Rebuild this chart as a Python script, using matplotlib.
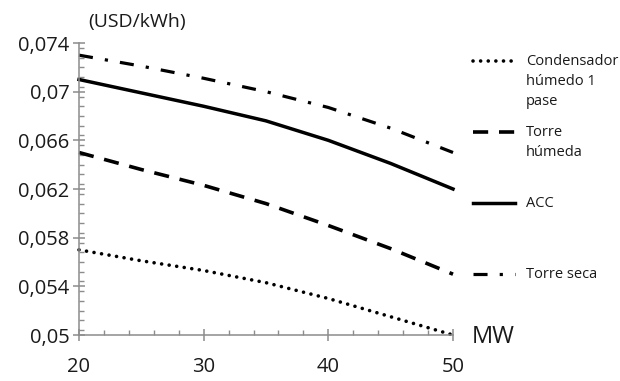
import numpy as np
import matplotlib
matplotlib.use("Agg")
import matplotlib.pyplot as plt
from matplotlib.legend_handler import HandlerLine2D
from matplotlib.ticker import MultipleLocator, FuncFormatter

plt.rcParams['font.family'] = ['Open Sans', 'DejaVu Sans']

# ---- data ----
mw = [20, 25, 30, 35, 40, 45, 50]
condensador = [0.0570, 0.0561, 0.0553, 0.0543, 0.0530, 0.0515, 0.0500]
torre_humeda = [0.0650, 0.0636, 0.0623, 0.0608, 0.0590, 0.0571, 0.0550]
acc = [0.0710, 0.0699, 0.0688, 0.0676, 0.0660, 0.0641, 0.0620]
torre_seca = [0.0730, 0.0721, 0.0711, 0.0700, 0.0687, 0.0670, 0.0650]
labels = ["Condensador\nhúmedo 1\npase", "Torre\nhúmeda\n", "ACC\n\n", "Torre seca\n\n"]
y_ticks = [0.05, 0.054, 0.058, 0.062, 0.066, 0.07, 0.074]
x_ticks = [20, 30, 40, 50]

fig = plt.figure(figsize=(6.2, 3.81), dpi=100)
ax = fig.add_axes([79/620, 1-335/381, (453-79)/620, (335-43)/381])

l1, = ax.plot(mw, condensador, color='black', lw=2.6, linestyle=(0, (0.01, 2.1)),
              dash_capstyle='round', clip_on=False)
l2, = ax.plot(mw, torre_humeda, color='black', lw=2.6, linestyle=(0, (4.2, 3.0)),
              clip_on=False)
l3, = ax.plot(mw, acc, color='black', lw=2.5, clip_on=False)
l4, = ax.plot(mw, torre_seca, color='black', lw=2.3,
              linestyle=(0, (4.4, 3.8, 1.0, 3.8)), clip_on=False)

ax.set_xlim(20, 50)
ax.set_ylim(0.05, 0.074)
ax.set_xticks(x_ticks)
ax.set_yticks(y_ticks)
ax.xaxis.set_minor_locator(MultipleLocator(2))
ax.yaxis.set_minor_locator(MultipleLocator(0.0008))
ax.yaxis.set_major_formatter(FuncFormatter(lambda v, p: ('%g' % round(v, 4)).replace('.', ',')))

axis_col = '#8c8c8c'
for s in ['top', 'right']:
    ax.spines[s].set_visible(False)
for s in ['left', 'bottom']:
    ax.spines[s].set_color(axis_col)
    ax.spines[s].set_linewidth(1.1)
ax.tick_params(which='major', direction='inout', length=8, width=1.1, color=axis_col,
               labelsize=14.5, labelcolor='#1a1a1a')
ax.tick_params(which='minor', direction='in', length=3.5, width=1.0, color=axis_col)
ax.tick_params(axis='y', which='major', pad=3)
ax.tick_params(axis='x', which='major', pad=12)

fig.text(137/620, 1-22/381, "(USD/kWh)", ha='center', va='center', fontsize=14, color='#1a1a1a')
fig.text(472/620, 1-337/381, "MW", ha='left', va='center', fontsize=17, color='#1a1a1a')


class OffsetHandler(HandlerLine2D):
    def __init__(self, dy, **kw):
        super().__init__(**kw)
        self.dy = dy

    def create_artists(self, legend, orig_handle, xdescent, ydescent, width, height, fontsize, trans):
        arts = super().create_artists(legend, orig_handle, xdescent, ydescent, width, height, fontsize, trans)
        for a in arts:
            a.set_ydata(np.asarray(a.get_ydata(), dtype=float) + self.dy * fontsize)
        return arts


dy = 1.45
leg = ax.legend([l1, l2, l3, l4], labels, loc='upper left',
                bbox_to_anchor=(473/620, 1-54/381), bbox_transform=fig.transFigure,
                frameon=False, fontsize=10.5, handlelength=2.9, handletextpad=0.75,
                labelspacing=1.1, borderpad=0, borderaxespad=0,
                handler_map={l: OffsetHandler(dy) for l in [l1, l2, l3, l4]})
for t in leg.get_texts():
    t.set_linespacing(1.45)
    t.set_color('#1a1a1a')

fig.savefig("out.png", dpi=100)
